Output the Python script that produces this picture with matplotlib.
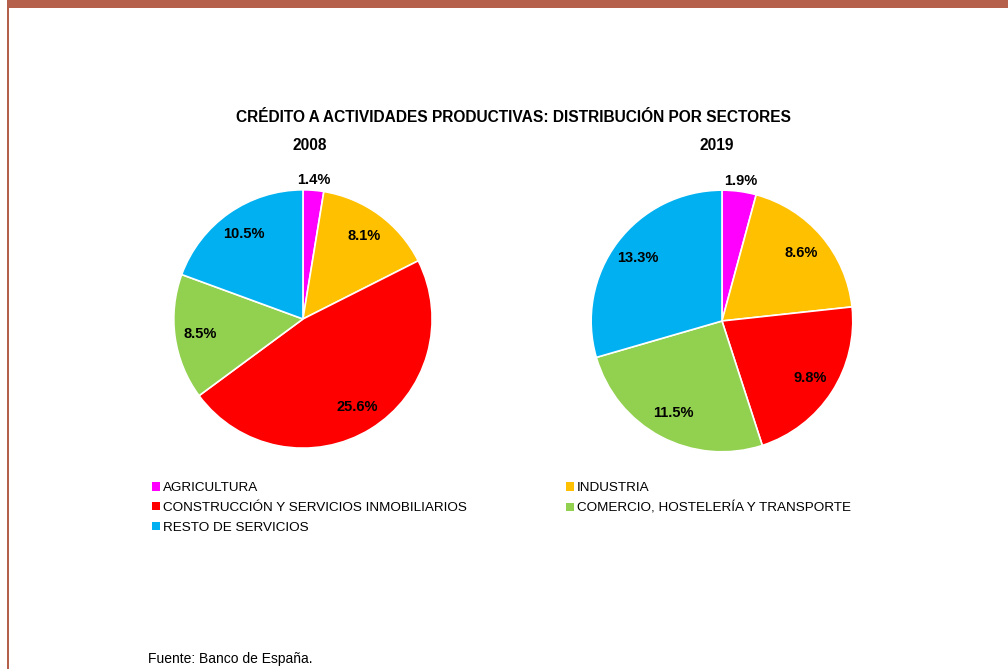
import numpy as np
import matplotlib.pyplot as plt
from matplotlib.patches import Patch, Rectangle

plt.rcParams['font.family'] = ['Liberation Sans', 'DejaVu Sans']

sectores = ['AGRICULTURA', 'INDUSTRIA', 'CONSTRUCCIÓN Y SERVICIOS INMOBILIARIOS',
            'COMERCIO, HOSTELERÍA Y TRANSPORTE', 'RESTO DE SERVICIOS']
colores = ['#FF00FF', '#FFC000', '#FF0000', '#92D050', '#00B0F0']
valores_2008 = [1.4, 8.1, 25.6, 8.5, 10.5]
valores_2019 = [1.9, 8.6, 9.8, 11.5, 13.3]

fig = plt.figure(figsize=(10.08, 6.69), dpi=100)

# banda superior y borde izquierdo
fig.patches.append(Rectangle((7 / 1008, 1 - 8 / 669), 1, 8 / 669, transform=fig.transFigure,
                             facecolor='#B5604A', edgecolor='none'))
fig.patches.append(Rectangle((7 / 1008, 0), 2 / 1008, 1, transform=fig.transFigure,
                             facecolor='#B5604A', edgecolor='none'))


def tarta(pos, valores):
    ax = fig.add_axes(pos)
    total = sum(valores)
    wedges, _, autotexts = ax.pie(
        valores, colors=colores, startangle=90, counterclock=False,
        autopct=lambda p: '{:.1f}%'.format(p * total / 100), pctdistance=0.8,
        wedgeprops=dict(edgecolor='white', linewidth=1.2),
        textprops=dict(fontsize=10.5, fontweight='bold', color='black'))
    # etiqueta de la porción pequeña fuera del círculo
    w = wedges[0]
    ang = np.deg2rad((w.theta1 + w.theta2) / 2)
    autotexts[0].set_position((1.08 * np.cos(ang), 1.08 * np.sin(ang)))
    ax.set_xlim(-1.2, 1.2)
    ax.set_ylim(-1.2, 1.2)
    return ax


tarta([0.1468, 0.2915, 0.3075, 0.4634], valores_2008)
tarta([0.5605, 0.2855, 0.3115, 0.4694], valores_2019)

fig.text(0.509, 1 - 118 / 669, 'CRÉDITO A ACTIVIDADES PRODUCTIVAS: DISTRIBUCIÓN POR SECTORES',
         ha='center', va='center', fontsize=11.2, fontweight='bold')
fig.text(310 / 1008, 1 - 145 / 669, '2008', ha='center', va='center', fontsize=11.2, fontweight='bold')
fig.text(717 / 1008, 1 - 145 / 669, '2019', ha='center', va='center', fontsize=11.2, fontweight='bold')

handles = [Patch(facecolor=c, edgecolor='none') for c in colores]
estilo = dict(loc='upper left', frameon=False, fontsize=9.7, handlelength=0.6, handleheight=0.6,
              handletextpad=0.2, labelspacing=0.58, borderpad=0, borderaxespad=0)
fig.legend([handles[0], handles[2], handles[4]], [sectores[0], sectores[2], sectores[4]],
           bbox_to_anchor=(152 / 1008, 1 - 482 / 669), **estilo)
fig.legend([handles[1], handles[3]], [sectores[1], sectores[3]],
           bbox_to_anchor=(566 / 1008, 1 - 482 / 669), **estilo)

fig.text(148 / 1008, 1 - 659 / 669, 'Fuente: Banco de España.', ha='left', va='center', fontsize=10)

fig.savefig('out.png', dpi=100, facecolor='white')
